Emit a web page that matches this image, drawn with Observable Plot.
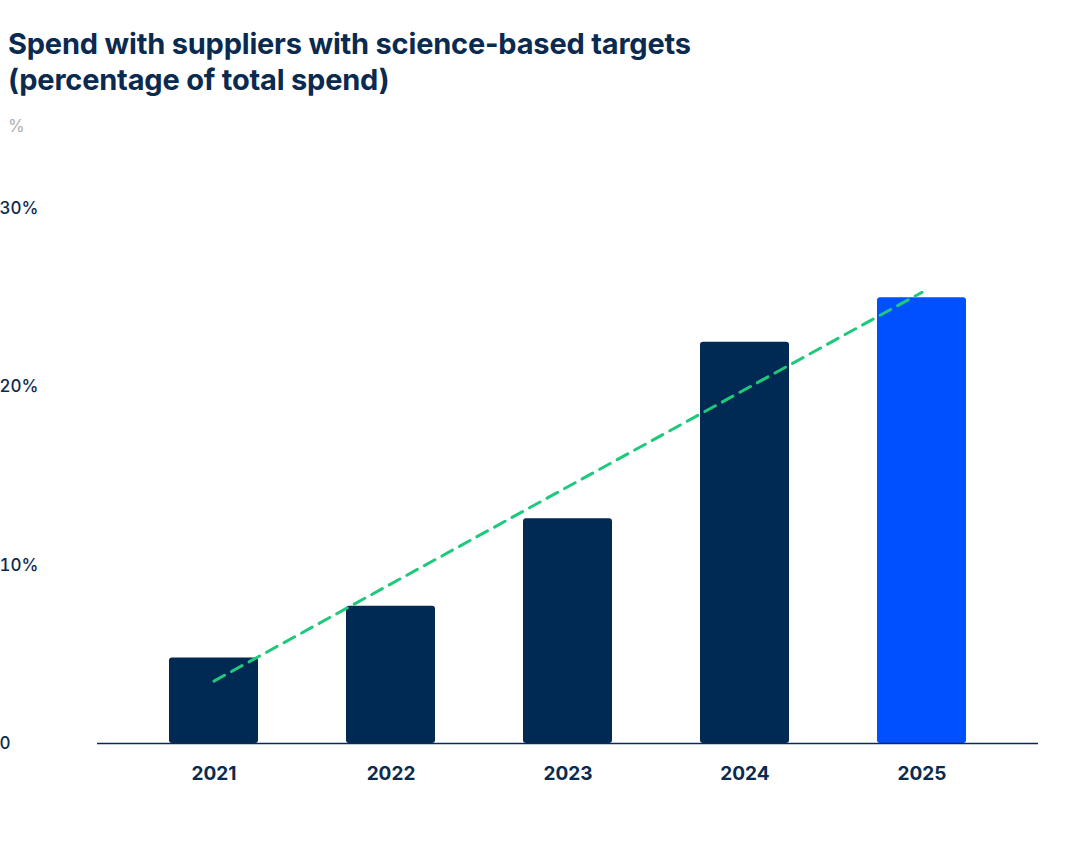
<!DOCTYPE html>
<html><head><meta charset="utf-8">
<script src="https://cdn.jsdelivr.net/npm/d3@7"></script>
<script src="https://cdn.jsdelivr.net/npm/@observablehq/plot@0.6"></script>
<style>
body{margin:0;background:#fff;font-family:Inter,sans-serif;}
#wrap{position:relative;width:1080px;height:864px;}
#title{position:absolute;left:8px;top:26px;font-size:29px;font-weight:700;color:#0b2a4f;line-height:36px;letter-spacing:-0.2px}
#unit{position:absolute;left:8px;top:116px;font-size:17px;color:#b0b0b0}
#chart{position:absolute;left:0;top:0}
</style></head><body>
<div id="wrap"><div id="chart"></div>
<div id="title">Spend with suppliers with science-based targets<br>(percentage of total spend)</div>
<div id="unit">%</div></div>
<script>
const years = ["2021","2022","2023","2024","2025"];
const values = [4.8, 7.7, 12.6, 22.5, 25.0];
const colors = ["#002a54","#002a54","#002a54","#002a54","#0050ff"];
const trendYears = ["2021","2025"];
const trendValues = [3.5, 25.3];
const yTicks = [0,10,20,30];

const data = years.map((y,i)=>({year:y,value:values[i],color:colors[i]}));
const trend = trendYears.map((y,i)=>({year:y,value:trendValues[i]}));

const chart = Plot.plot({
  width:1080, height:864,
  marginLeft:97, marginRight:42, marginTop:208, marginBottom:121,
  style:{fontFamily:"Inter,sans-serif", color:"#0b2a4f", background:"transparent"},
  x:{domain:years, paddingInner:0.5, paddingOuter:0.4, label:null},
  y:{domain:[0,30], label:null},
  marks:[
    Plot.barY(data,{x:"year",y:"value",fill:"color",rx:3}),
    Plot.ruleY([0],{stroke:"#0b2a4f",strokeWidth:1.5}),
    Plot.line(trend,{x:"year",y:"value",stroke:"#1fc97c",strokeWidth:3,strokeDasharray:"12,8"}),
    Plot.axisX({tickSize:0,fontSize:19,fontWeight:700,dy:14}),
    Plot.axisY({ticks:yTicks,tickSize:0,textAnchor:"start",dx:-89,fontSize:17,fontWeight:500,
      tickFormat:d=>d===0?"0":d+"%"})
  ]
});
document.getElementById("chart").appendChild(chart);
</script></body></html>
